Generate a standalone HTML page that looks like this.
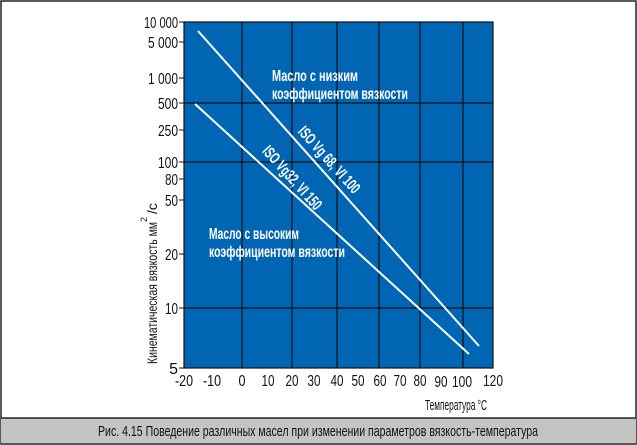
<!DOCTYPE html>
<html><head><meta charset="utf-8"><style>
html,body{margin:0;padding:0;background:#fff}
svg{display:block}
text{font-family:"Liberation Sans Narrow","Liberation Sans",sans-serif}
</style></head><body>
<svg width="637" height="445" viewBox="0 0 637 445">
<rect x="1" y="1" width="635" height="443" fill="#fff" stroke="#222" stroke-width="1.5"/>
<rect x="1" y="418" width="635" height="25" fill="#c4c4c4"/>
<line x1="1" y1="418" x2="636" y2="418" stroke="#222" stroke-width="1.5"/>
<text x="318" y="436" font-size="15" text-anchor="middle" fill="#111" textLength="440" lengthAdjust="spacingAndGlyphs">Рис. 4.15 Поведение различных масел при изменении параметров вязкость-температура</text>
<rect x="184" y="22" width="309" height="346" fill="#0066b3"/>
<g stroke="#111" stroke-width="1.2">
<line x1="242" y1="22" x2="242" y2="368"/>
<line x1="292" y1="22" x2="292" y2="368"/>
<line x1="337" y1="22" x2="337" y2="368"/>
<line x1="379" y1="22" x2="379" y2="368"/>
<line x1="420" y1="22" x2="420" y2="368"/>
<line x1="463" y1="22" x2="463" y2="368"/>
<line x1="184" y1="103" x2="493" y2="103"/>
<line x1="184" y1="162" x2="493" y2="162"/>
<line x1="184" y1="308" x2="493" y2="308"/>
</g>
<rect x="184" y="22" width="309" height="346" fill="none" stroke="#111" stroke-width="1.2"/>
<g stroke="#111" stroke-width="1">
<line x1="179" y1="22" x2="184" y2="22"/><line x1="179" y1="42" x2="184" y2="42"/>
<line x1="179" y1="78" x2="184" y2="78"/><line x1="179" y1="103" x2="184" y2="103"/>
<line x1="179" y1="130" x2="184" y2="130"/><line x1="179" y1="162" x2="184" y2="162"/>
<line x1="179" y1="179" x2="184" y2="179"/><line x1="179" y1="200" x2="184" y2="200"/>
<line x1="179" y1="254" x2="184" y2="254"/><line x1="179" y1="308" x2="184" y2="308"/>
<line x1="179" y1="368" x2="184" y2="368"/>
</g>
<g font-size="16" fill="#111" text-anchor="end">
<text x="178" y="28" textLength="34" lengthAdjust="spacingAndGlyphs">10 000</text><text x="178" y="48" textLength="30" lengthAdjust="spacingAndGlyphs">5 000</text>
<text x="178" y="84" textLength="30" lengthAdjust="spacingAndGlyphs">1 000</text><text x="178" y="109" textLength="20" lengthAdjust="spacingAndGlyphs">500</text>
<text x="178" y="136" textLength="20" lengthAdjust="spacingAndGlyphs">250</text><text x="178" y="168" textLength="20" lengthAdjust="spacingAndGlyphs">100</text>
<text x="178" y="185" textLength="13" lengthAdjust="spacingAndGlyphs">80</text><text x="178" y="206" textLength="13" lengthAdjust="spacingAndGlyphs">50</text>
<text x="178" y="260" textLength="13" lengthAdjust="spacingAndGlyphs">20</text><text x="178" y="314" textLength="13" lengthAdjust="spacingAndGlyphs">10</text>
<text x="178" y="374">5</text>
</g>
<g font-size="16" fill="#111" text-anchor="middle">
<text x="184" y="386" textLength="18" lengthAdjust="spacingAndGlyphs">-20</text><text x="212" y="386" textLength="18" lengthAdjust="spacingAndGlyphs">-10</text>
<text x="242" y="386" textLength="7" lengthAdjust="spacingAndGlyphs">0</text><text x="268" y="386" textLength="13" lengthAdjust="spacingAndGlyphs">10</text>
<text x="292" y="386" textLength="13" lengthAdjust="spacingAndGlyphs">20</text><text x="314" y="386" textLength="13" lengthAdjust="spacingAndGlyphs">30</text>
<text x="337" y="386" textLength="13" lengthAdjust="spacingAndGlyphs">40</text><text x="358" y="386" textLength="13" lengthAdjust="spacingAndGlyphs">50</text>
<text x="380" y="386" textLength="13" lengthAdjust="spacingAndGlyphs">60</text><text x="400" y="386" textLength="13" lengthAdjust="spacingAndGlyphs">70</text>
<text x="420" y="386" textLength="13" lengthAdjust="spacingAndGlyphs">80</text><text x="441" y="387" textLength="13" lengthAdjust="spacingAndGlyphs">90</text>
<text x="462" y="387" textLength="20" lengthAdjust="spacingAndGlyphs">100</text><text x="493" y="386" textLength="20" lengthAdjust="spacingAndGlyphs">120</text>
</g>
<text x="487" y="410" font-size="15" fill="#111" text-anchor="end" textLength="62" lengthAdjust="spacingAndGlyphs">Температура °C</text>
<text transform="translate(157,364) rotate(-90)" font-size="14" fill="#111" textLength="142" lengthAdjust="spacingAndGlyphs">Кинематическая вязкость мм</text>
<text transform="translate(147,222) rotate(-90)" font-size="9" fill="#111">2</text>
<text transform="translate(157,214) rotate(-90)" font-size="14" fill="#111">/с</text>
<g stroke="#fff" stroke-width="2">
<line x1="198" y1="31" x2="479" y2="346"/>
<line x1="195" y1="104" x2="469" y2="354"/>
</g>
<g fill="#fff" font-size="16" font-weight="bold">
<text x="272" y="81" textLength="86" lengthAdjust="spacingAndGlyphs">Масло с низким</text>
<text x="272" y="99" textLength="136" lengthAdjust="spacingAndGlyphs">коэффициентом вязкости</text>
<text x="209" y="239" textLength="90" lengthAdjust="spacingAndGlyphs">Масло с высоким</text>
<text x="209" y="257" textLength="136" lengthAdjust="spacingAndGlyphs">коэффициентом вязкости</text>
<text transform="translate(329,160) rotate(48)" text-anchor="middle" y="5" textLength="84" lengthAdjust="spacingAndGlyphs">ISO Vg 68, VI 100</text>
<text transform="translate(292,178) rotate(48)" text-anchor="middle" y="5" textLength="80" lengthAdjust="spacingAndGlyphs">ISO Vg32, VI 150</text>
</g>
</svg>
</body></html>
